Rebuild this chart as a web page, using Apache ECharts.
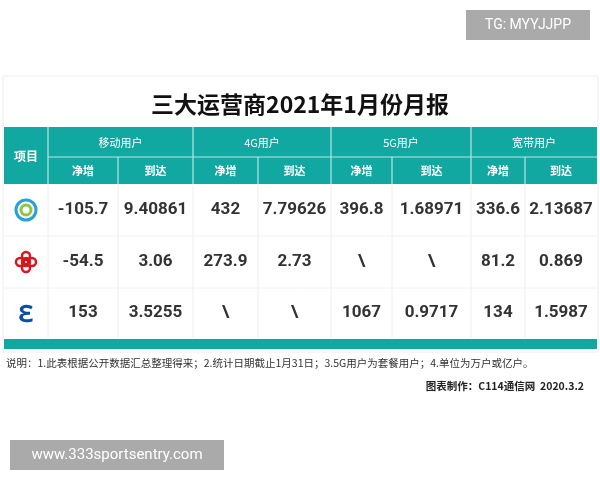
<!DOCTYPE html>
<html><head><meta charset="utf-8">
<script src="https://cdn.jsdelivr.net/npm/echarts@6/dist/echarts.min.js"></script>
<style>html,body{margin:0;background:#fff}#c{width:600px;height:480px}</style>
</head><body><div id="c"></div>
<script>
var groups = ['移动用户', '4G用户', '5G用户', '宽带用户'];
var subs = ['净增', '到达'];
var mobile = ['-105.7', '9.40861', '432', '7.79626', '396.8', '1.68971', '336.6', '2.13687'];
var unicom = ['-54.5', '3.06', '273.9', '2.73', '\\', '\\', '81.2', '0.869'];
var telecom = ['153', '3.5255', '\\', '\\', '1067', '0.9717', '134', '1.5987'];
var rows = [mobile, unicom, telecom];

var colX = [4, 48, 118, 193, 258, 331, 392, 471, 525, 597];
var rowY = [184, 236, 288, 338];
var teal = '#12a8a2';
var font = '"Noto Sans CJK SC", "Noto Sans", sans-serif';
var numFont = 'Roboto, "Noto Sans", sans-serif';
var els = [];

function rect(x, y, w, h, fill, stroke) {
  var st = {fill: fill, lineWidth: 1};
  if (stroke) st.stroke = stroke;
  els.push({type: 'rect', shape: {x: x, y: y, width: w, height: h}, style: st});
}
function text(x, y, s, size, color, weight, align, ff) {
  els.push({type: 'text', x: x, y: y, style: {text: s, fontSize: size, fill: color,
    fontWeight: weight || 'normal', fontFamily: ff || font, align: align || 'center', verticalAlign: 'middle'}});
}
function line(x1, y1, x2, y2, color, w) {
  els.push({type: 'line', shape: {x1: x1, y1: y1, x2: x2, y2: y2}, style: {stroke: color, lineWidth: w || 1}});
}

// frame + title
rect(3, 76, 595, 276, '#fff', '#eeeeee');
text(300, 104, '三大运营商2021年1月份月报', 23, '#111', 'bold');

// header
rect(4, 127, 593, 57, teal);
text(26, 156, '项目', 12, '#fff', 'bold');
for (var g = 0; g < 4; g++) {
  var a = colX[1 + g * 2], b = colX[3 + g * 2];
  text((a + b) / 2, 143, groups[g], 11, '#fff');
  for (var s = 0; s < 2; s++) {
    var l = colX[1 + g * 2 + s], rr = colX[2 + g * 2 + s];
    text((l + rr) / 2, 171, subs[s], 11, '#fff', 'bold');
  }
}
line(48, 157, 597, 157, '#b5e6e4', 1.2);
for (var i = 1; i < colX.length - 1; i++) {
  var y0 = (i % 2 === 1) ? 127 : 157;
  line(colX[i], y0, colX[i], 184, '#b5e6e4', 1.2);
}

// body
for (var r = 0; r < rows.length; r++) {
  for (var c = 0; c < rows[r].length; c++) {
    text((colX[c + 1] + colX[c + 2]) / 2, (rowY[r] + rowY[r + 1]) / 2, rows[r][c], 17, '#333', 'bold', 'center', numFont);
  }
  if (r > 0) line(4, rowY[r], 597, rowY[r], '#f2f2f2');
}
for (var i = 1; i < colX.length - 1; i++) line(colX[i], 184, colX[i], 338, '#eeeeee');
rect(4, 339, 593, 10, teal);

// logos
els.push({type: 'circle', shape: {cx: 26, cy: 210, r: 10}, style: {fill: 'transparent', stroke: '#2a9fd8', lineWidth: 3}});
els.push({type: 'circle', shape: {cx: 26, cy: 210, r: 5}, style: {fill: 'transparent', stroke: '#8cc63f', lineWidth: 3}});
[[0, -6], [0, 6], [-6, 0], [6, 0], [0, 0]].forEach(function (p) {
  els.push({type: 'circle', shape: {cx: 26 + p[0], cy: 262 + p[1], r: 4}, style: {fill: 'transparent', stroke: '#d7161e', lineWidth: 2.5}});
});
text(26, 313, 'ℇ', 24, '#0b4ea2', 'bold');

// notes
text(6, 363, '说明：1.此表根据公开数据汇总整理得来；2.统计日期截止1月31日；3.5G用户为套餐用户；4.单位为万户或亿户。', 10.5, '#333', 'normal', 'left');
text(584, 386, '图表制作：C114通信网  2020.3.2', 10.5, '#222', 'bold', 'right');

// watermarks
rect(466, 10, 124, 30, '#aaaaaa');
text(528, 25, 'TG: MYYJJPP', 14, '#fff', 'normal', 'center', numFont);
rect(10, 440, 214, 30, '#aaaaaa');
text(117, 455, 'www.333sportsentry.com', 15, '#fff', 'normal', 'center', numFont);

var chart = echarts.init(document.getElementById('c'));
chart.setOption({animation: false, graphic: {elements: els}});
</script></body></html>
